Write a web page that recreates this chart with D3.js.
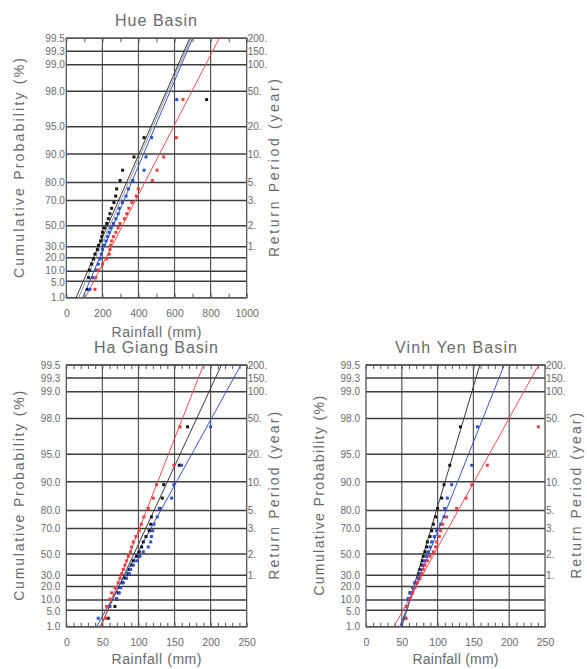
<!DOCTYPE html>
<html><head><meta charset="utf-8">
<script src="https://cdn.jsdelivr.net/npm/d3@7"></script>
<style>
html,body{margin:0;padding:0;background:#fff;}
svg text{font-family:"Liberation Sans",Arial,sans-serif;fill:#6a6a6a;}
</style></head>
<body><svg id="c" width="587" height="669"></svg>
<script>
// ---------- data ----------
const probTicks  = [1, 5, 10, 20, 30, 50, 70, 80, 90, 95, 98, 99, 99.3, 99.5];
const probLabels = ["1.0","5.0","10.0","20.0","30.0","50.0","70.0","80.0","90.0","95.0","98.0","99.0","99.3","99.5"];
const returnProb   = [30, 50, 70, 80, 90, 95, 98, 99, 99.3, 99.5];
const returnLabels = ["1.","2.","3.","5.","10.","20.","50.","100.","150.","200."];
// plotting positions (cumulative probability, %) of ranked values
const plotProb = [2.48, 6.61, 10.74, 14.88, 19.01, 23.14, 27.27, 31.40, 35.54, 39.67, 43.80, 47.93,
                  52.07, 56.20, 60.33, 64.46, 68.60, 72.73, 76.86, 80.99, 85.12, 89.26, 93.39, 97.52];

const hueTicks = [0, 200, 400, 600, 800, 1000];
const hueBlack = [116,124,128,139,150,159,172,179,190,196,201,211,224,233,242,251,264,274,279,298,312,375,431,778];
const hueBlue  = [131,146,165,177,187,194,201,211,220,229,238,246,261,275,288,294,311,331,344,368,431,442,473,612];
const hueRed   = [159,163,177,201,224,238,242,246,251,261,275,287,298,322,335,347,364,388,399,477,503,540,610,647];
// fitted lines: rainfall at 1.0 % and at 99.5 %
const hueFitBlack = [54, 684];
const hueFitGray  = [68, 692];
const hueFitBlue  = [91, 700];
const hueFitRed   = [105, 848];

const hgTicks = [0, 50, 100, 150, 200, 250];
const hgRed   = [55,55.9,60.5,62.8,67.4,72,74.4,76.7,79,81.3,83.6,86,89,90.5,92.8,96.4,101,104,107.5,113.6,120.5,125,149,157.5];
const hgBlack = [58.2,67.4,69.7,72,74.4,78,81.3,86,87.3,90.5,92.8,97.5,101,104.4,106.7,110.4,115,117,118,129.8,133,135,156.6,168];
const hgBlue  = [44.3,60.5,69.7,73.4,75.3,79,83.6,87.3,89,92.8,97.5,102,106.7,113.6,117,118,119.6,121.5,126,128.9,146,149,159.8,200];
const hgFitRed   = [48, 190];
const hgFitBlack = [47, 215];
const hgFitBlue  = [42, 242];

const vyTicks = [0, 50, 100, 150, 200, 250];
const vyBlack = [54.5,56.8,59,61.5,66,68.4,73,74,75.4,77.7,78.7,80,82.4,84.7,85.7,89.4,91.7,94,97.3,100,105.7,109,117,132];
const vyBlue  = [54,56.8,59,61.5,65.2,68.4,73,75.4,77.7,80,82.4,84.7,87,89.4,91.7,95.4,98.7,104.3,109,110,113.6,119.6,147.6,155.5];
const vyRed   = [56,57,61.5,65.2,68.4,71.7,75.4,77.7,80,82.4,85.7,89.4,94,97.3,98.7,102.4,104.3,107,112.7,126.6,139.7,147.6,169.5,240.7];
const vyFitBlack = [50, 159];
const vyFitBlue  = [47, 193];
const vyFitRed   = [39, 241];

// ---------- styles ----------
const C = {black:"#151515", blue:"#2a4fd6", red:"#f23c3c", gray:"#8a8a8a"};
const LC = {black:"#3a3a3a", blue:"#3656cc", red:"#f05050", gray:"#9a9a9a"};
// small vertical nudges (px) for crowded probability labels
const labelNudge = {"10.0": -0.9, "5.0": 0.9};

const panels = [
  {title:"Hue Basin", L:66.3, R:246.7, T:38.3, B:297.7, xMax:1000, ticks:hueTicks, minor:100,
   titleX:156, titleY:26, titleW:82, yPad:1.5, ytX:20, ytLen:220, rtX:275, rtLen:178, xtY:333, xtW:90,
   series:[{v:hueBlack,c:"black"},{v:hueBlue,c:"blue"},{v:hueRed,c:"red"}],
   fits:[{v:hueFitGray,c:"gray"},{v:hueFitBlack,c:"black"},{v:hueFitBlue,c:"blue"},{v:hueFitRed,c:"red"}]},
  {title:"Ha Giang Basin", L:66.3, R:246.7, T:365, B:626.7, xMax:250, ticks:hgTicks, minor:10,
   titleX:156, titleY:353, titleW:124, yPad:6, ytX:20, ytLen:210, rtX:275, rtLen:168, xtY:660, xtW:90,
   series:[{v:hgBlack,c:"black"},{v:hgBlue,c:"blue"},{v:hgRed,c:"red"}],
   fits:[{v:hgFitBlack,c:"black"},{v:hgFitBlue,c:"blue"},{v:hgFitRed,c:"red"}]},
  {title:"Vinh Yen Basin", L:366, R:545, T:365, B:626.7, xMax:250, ticks:vyTicks, minor:10,
   titleX:456, titleY:353, titleW:122, yPad:6, ytX:320, ytLen:200, rtX:577, rtLen:166, xtY:660, xtW:86,
   series:[{v:vyBlack,c:"black"},{v:vyBlue,c:"blue"},{v:vyRed,c:"red"}],
   fits:[{v:vyFitBlack,c:"black"},{v:vyFitBlue,c:"blue"},{v:vyFitRed,c:"red"}]}
];

const gum = p => -Math.log(-Math.log(p / 100));
const svg = d3.select("#c");
svg.append("rect").attr("width",587).attr("height",669).attr("fill","#fff");

panels.forEach((P, pi) => {
  const g = svg.append("g");
  const x = d3.scaleLinear().domain([0, P.xMax]).range([P.L, P.R]);
  const y = d3.scaleLinear().domain([gum(1), gum(99.5)]).range([P.B, P.T]);

  // vertical grid
  g.append("g").selectAll("line").data(P.ticks.slice(1, -1)).join("line")
    .attr("x1", d => x(d)).attr("x2", d => x(d)).attr("y1", P.T).attr("y2", P.B)
    .attr("stroke", "#555").attr("stroke-width", 1.2);
  // horizontal grid
  g.append("g").selectAll("line").data(probTicks).join("line")
    .attr("x1", P.L).attr("x2", P.R).attr("y1", d => y(gum(d))).attr("y2", d => y(gum(d)))
    .attr("stroke", "#3c3c3c").attr("stroke-width", 1.5);
  // frame
  g.append("rect").attr("x", P.L).attr("y", P.T).attr("width", P.R - P.L).attr("height", P.B - P.T)
    .attr("fill", "none").attr("stroke", "#555").attr("stroke-width", 1.3);

  // minor ticks top & bottom
  const minorVals = d3.range(0, P.xMax + P.minor / 2, P.minor);
  const topAx = g.append("g").attr("transform", `translate(0,${P.T})`)
    .call(d3.axisTop(x).tickValues(minorVals).tickSize(-4).tickFormat(""));
  const botAx = g.append("g").attr("transform", `translate(0,${P.B})`)
    .call(d3.axisBottom(x).tickValues(minorVals).tickSize(-4).tickFormat(""));
  [topAx, botAx].forEach(a => { a.select(".domain").remove(); a.selectAll("line").attr("stroke", "#555"); });

  // x tick labels
  const xl = g.append("g").attr("transform", `translate(0,${P.B})`)
    .call(d3.axisBottom(x).tickValues(P.ticks).tickSize(0).tickPadding(11.5).tickFormat(d3.format("d")));
  xl.select(".domain").remove();
  xl.selectAll("text").attr("font-size", 10.5).attr("fill", "#6a6a6a").attr("font-family", null);

  // left probability labels
  const yl = g.append("g").attr("transform", `translate(${P.L},0)`)
    .call(d3.axisLeft(y).tickValues(probTicks.map(gum)).tickSize(0).tickPadding(P.yPad)
      .tickFormat((d, i) => probLabels[i]));
  yl.select(".domain").remove();
  yl.selectAll("text").attr("font-size", 10).attr("fill", "#6a6a6a").attr("font-family", null)
    .attr("y", function() { const t = d3.select(this).text(); return labelNudge[t] || 0; });

  // right return-period labels
  const yr = g.append("g").attr("transform", `translate(${P.R},0)`)
    .call(d3.axisRight(y).tickValues(returnProb.map(gum)).tickSize(0).tickPadding(1)
      .tickFormat((d, i) => returnLabels[i]));
  yr.select(".domain").remove();
  yr.selectAll("text").attr("font-size", 10).attr("fill", "#6a6a6a").attr("font-family", null);

  // clip
  const cid = "clip" + pi;
  svg.append("clipPath").attr("id", cid).append("rect")
    .attr("x", P.L).attr("y", P.T).attr("width", P.R - P.L).attr("height", P.B - P.T);
  const inner = g.append("g").attr("clip-path", `url(#${cid})`);

  // fitted lines
  const line = d3.line().x(d => x(d[0])).y(d => y(gum(d[1])));
  P.fits.forEach(f => {
    inner.append("path").datum([[f.v[0], 1], [f.v[1], 99.5]])
      .attr("d", line).attr("fill", "none").attr("stroke", LC[f.c]).attr("stroke-width", 1);
  });
  // points
  P.series.forEach(s => {
    inner.append("g").selectAll("rect").data(s.v).join("rect")
      .attr("x", d => x(d) - 1.5).attr("y", (d, i) => y(gum(plotProb[i])) - 1.5)
      .attr("width", 3).attr("height", 3).attr("fill", C[s.c]);
  });

  // titles
  g.append("text").attr("x", P.titleX).attr("y", P.titleY).attr("text-anchor", "middle")
    .attr("font-size", 16).attr("textLength", P.titleW).attr("lengthAdjust", "spacing").text(P.title);
  g.append("text").attr("transform", `translate(${P.ytX},${(P.T + P.B) / 2}) rotate(-90)`)
    .attr("text-anchor", "middle").attr("dominant-baseline", "middle")
    .attr("font-size", 14).attr("textLength", P.ytLen).attr("lengthAdjust", "spacing")
    .text("Cumulative Probability (%)");
  g.append("text").attr("transform", `translate(${P.rtX},${(P.T + P.B) / 2}) rotate(-90)`)
    .attr("text-anchor", "middle").attr("dominant-baseline", "middle")
    .attr("font-size", 14).attr("textLength", P.rtLen).attr("lengthAdjust", "spacing")
    .text("Return Period (year)");
  g.append("text").attr("x", (P.L + P.R) / 2).attr("y", P.xtY).attr("text-anchor", "middle")
    .attr("dominant-baseline", "middle")
    .attr("font-size", 14).attr("textLength", P.xtW).attr("lengthAdjust", "spacing")
    .text("Rainfall (mm)");
});
</script></body></html>
